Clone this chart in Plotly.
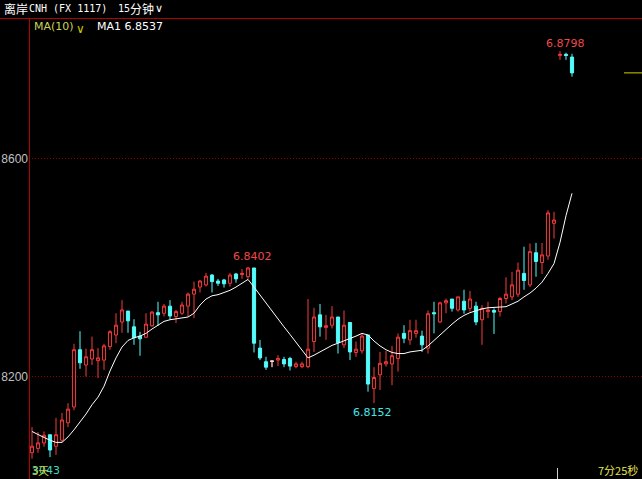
import plotly.graph_objects as go

# 15-minute bars, offshore CNH
open_ = [6.8061, 6.8069, 6.8079, 6.8094, 6.8073, 6.8084, 6.8116, 6.8145, 6.8250, 6.8222,
         6.8233, 6.8230, 6.8231, 6.8256, 6.8277, 6.8301, 6.8321, 6.8292, 6.8275, 6.8273,
         6.8294, 6.8318, 6.8317, 6.8330, 6.8311, 6.8317, 6.8330, 6.8352, 6.8365, 6.8369,
         6.8387, 6.8376, 6.8378, 6.8372, 6.8389, 6.8388, 6.8384, 6.8400, 6.8253, 6.8228,
         6.8229, 6.8231, 6.8232, 6.8234, 6.8219, 6.8219, 6.8219, 6.8265, 6.8314, 6.8291,
         6.8295, 6.8310, 6.8259, 6.8300, 6.8245, 6.8248, 6.8277, 6.8179, 6.8204, 6.8224,
         6.8224, 6.8234, 6.8280, 6.8268, 6.8280, 6.8275, 6.8253, 6.8318, 6.8301, 6.8336,
         6.8343, 6.8323, 6.8339, 6.8326, 6.8330, 6.8305, 6.8320, 6.8322, 6.8320, 6.8344,
         6.8347, 6.8352, 6.8390, 6.8369, 6.8428, 6.8410, 6.8422, 6.8482, 6.8790, 6.8792,
         6.8787]
high = [6.8108, 6.8099, 6.8100, 6.8094, 6.8125, 6.8134, 6.8152, 6.8261, 6.8284, 6.8252,
        6.8274, 6.8253, 6.8261, 6.8286, 6.8317, 6.8341, 6.8321, 6.8306, 6.8283, 6.8317,
        6.8321, 6.8338, 6.8334, 6.8341, 6.8323, 6.8338, 6.8355, 6.8375, 6.8378, 6.8391,
        6.8389, 6.8380, 6.8380, 6.8391, 6.8391, 6.8398, 6.8402, 6.8400, 6.8268, 6.8237,
        6.8229, 6.8240, 6.8237, 6.8237, 6.8228, 6.8228, 6.8343, 6.8327, 6.8334, 6.8314,
        6.8330, 6.8310, 6.8322, 6.8300, 6.8265, 6.8280, 6.8277, 6.8218, 6.8246, 6.8248,
        6.8257, 6.8280, 6.8295, 6.8305, 6.8305, 6.8285, 6.8322, 6.8338, 6.8338, 6.8344,
        6.8343, 6.8347, 6.8360, 6.8358, 6.8338, 6.8332, 6.8338, 6.8326, 6.8347, 6.8383,
        6.8393, 6.8410, 6.8439, 6.8445, 6.8446, 6.8446, 6.8506, 6.8503, 6.8798, 6.8795,
        6.8793]
low = [6.8050, 6.8061, 6.8072, 6.8053, 6.8057, 6.8081, 6.8108, 6.8139, 6.8215, 6.8201,
       6.8222, 6.8198, 6.8213, 6.8250, 6.8262, 6.8281, 6.8281, 6.8259, 6.8239, 6.8272,
       6.8292, 6.8294, 6.8311, 6.8305, 6.8299, 6.8314, 6.8311, 6.8308, 6.8355, 6.8366,
       6.8355, 6.8367, 6.8364, 6.8366, 6.8373, 6.8380, 6.8380, 6.8245, 6.8231, 6.8213,
       6.8218, 6.8220, 6.8218, 6.8212, 6.8216, 6.8216, 6.8216, 6.8246, 6.8274, 6.8268,
       6.8289, 6.8243, 6.8253, 6.8231, 6.8237, 6.8243, 6.8173, 6.8152, 6.8176, 6.8219,
       6.8185, 6.8210, 6.8262, 6.8259, 6.8272, 6.8246, 6.8243, 6.8280, 6.8299, 6.8317,
       6.8320, 6.8320, 6.8316, 6.8320, 6.8295, 6.8259, 6.8308, 6.8279, 6.8311, 6.8335,
       6.8341, 6.8347, 6.8360, 6.8365, 6.8384, 6.8389, 6.8415, 6.8454, 6.8782, 6.8782,
       6.8751]
close = [6.8073, 6.8079, 6.8093, 6.8066, 6.8094, 6.8121, 6.8141, 6.8250, 6.8226, 6.8237,
         6.8250, 6.8235, 6.8257, 6.8283, 6.8295, 6.8323, 6.8303, 6.8272, 6.8270, 6.8297,
         6.8319, 6.8314, 6.8330, 6.8312, 6.8320, 6.8332, 6.8352, 6.8361, 6.8376, 6.8385,
         6.8375, 6.8372, 6.8371, 6.8387, 6.8380, 6.8390, 6.8400, 6.8262, 6.8235, 6.8218,
         6.8229, 6.8234, 6.8224, 6.8220, 6.8224, 6.8224, 6.8251, 6.8310, 6.8292, 6.8294,
         6.8310, 6.8263, 6.8295, 6.8246, 6.8251, 6.8275, 6.8187, 6.8199, 6.8225, 6.8228,
         6.8239, 6.8273, 6.8271, 6.8285, 6.8285, 6.8259, 6.8316, 6.8316, 6.8336, 6.8340,
         6.8326, 6.8347, 6.8323, 6.8343, 6.8301, 6.8326, 6.8323, 6.8319, 6.8344, 6.8352,
         6.8369, 6.8396, 6.8377, 6.8430, 6.8412, 6.8424, 6.8501, 6.8488, 6.8792, 6.8790,
         6.8758]
# MA(10) line
ma10 = [6.8100, 6.8094, 6.8089, 6.8084, 6.8080, 6.8080, 6.8090, 6.8103, 6.8117, 6.8132,
        6.8149, 6.8163, 6.8183, 6.8211, 6.8235, 6.8255, 6.8267, 6.8272, 6.8275, 6.8280,
        6.8288, 6.8295, 6.8302, 6.8305, 6.8307, 6.8309, 6.8310, 6.8317, 6.8332, 6.8343,
        6.8349, 6.8351, 6.8355, 6.8359, 6.8365, 6.8372, 6.8379, 6.8365, 6.8350, 6.8336,
        6.8321, 6.8306, 6.8292, 6.8278, 6.8263, 6.8249, 6.8235, 6.8240, 6.8246, 6.8252,
        6.8258, 6.8262, 6.8266, 6.8271, 6.8275, 6.8280, 6.8277, 6.8266, 6.8257, 6.8250,
        6.8245, 6.8243, 6.8243, 6.8246, 6.8248, 6.8249, 6.8257, 6.8267, 6.8278, 6.8288,
        6.8297, 6.8306, 6.8313, 6.8318, 6.8322, 6.8325, 6.8327, 6.8328, 6.8328, 6.8329,
        6.8334, 6.8339, 6.8347, 6.8354, 6.8363, 6.8374, 6.8390, 6.8408, 6.8447, 6.8496,
        6.8537]
price_ticks = [6.82, 6.86]
# the narrow price scale shows only the last four digits
tick_labels = [f"{v:.4f}"[-4:] for v in price_ticks]
idx = list(range(len(close)))

# marked extremes (bar index, which price)
peak_i, trough_i, top_i = 36, 57, 88

W, H = 642, 479
L, T = 29, 18
PW, PH = W - L, H - T


def px(x):
    return (x - L) / PW


def py(y):
    return 1 - (y - T) / PH


UP = "#f53c3c"
DOWN = "#54fcfc"
FRAME = "#b40000"
GRID = "#8c0000"

fig = go.Figure()
fig.add_trace(go.Candlestick(
    x=idx, open=open_, high=high, low=low, close=close,
    increasing=dict(line=dict(color=UP, width=1), fillcolor="#000000"),
    decreasing=dict(line=dict(color=DOWN, width=1), fillcolor=DOWN),
    whiskerwidth=0, showlegend=False, hoverinfo="skip",
))

# flat bars (open == close) are drawn in white
flat = [i for i in idx if open_[i] == close[i]]
fig.add_trace(go.Candlestick(
    x=flat, open=[open_[i] for i in flat], high=[high[i] for i in flat],
    low=[low[i] for i in flat], close=[close[i] for i in flat],
    increasing=dict(line=dict(color="#e8e8e8", width=1), fillcolor="#e8e8e8"),
    decreasing=dict(line=dict(color="#e8e8e8", width=1), fillcolor="#e8e8e8"),
    whiskerwidth=0, showlegend=False, hoverinfo="skip",
))

fig.add_trace(go.Scatter(
    x=idx, y=ma10, mode="lines", line=dict(color="#ffffff", width=1),
    showlegend=False, hoverinfo="skip",
))

LAT = "DejaVu Sans"
CJK = "Noto Sans CJK SC"
MONO = "DejaVu Sans Mono"


def note(x, y, text, color, size=11, family=LAT, anchor="left"):
    return dict(xref="paper", yref="paper", x=px(x), y=py(y), text=text,
                showarrow=False, xanchor=anchor, yanchor="middle",
                font=dict(family=family, size=size, color=color))


annotations = [
    note(2, 9, "离岸", "#ffffff", 12, CJK),
    note(27, 9, "CNH (FX 1117)", "#ffffff", 10, MONO),
    note(116, 9, "15", "#ffffff", 10, MONO),
    note(128, 9, "分钟", "#ffffff", 12, CJK),
    note(153, 9, "∨", "#ffffff", 11, LAT),
    note(32, 27, "MA(10)", "#c8d25a", 11, LAT),
    note(74, 29, "∨", "#c8c800", 12, LAT),
    note(95, 27, f"MA1 {ma10[-1]:.4f}", "#ffffff", 11, LAT),
    note(30, 470, "3043", "#40d8c0", 11, LAT),
    note(30, 470, "3天", "#c8c832", 11, CJK),
    note(596, 470, "7分25秒", "#e6e650", 11, CJK),
]

for i, yshift, xshift, color in [
    (peak_i, 10, 4, "#f04848"),
    (trough_i, -9, -2, "#40e8e8"),
    (top_i, 8, 5, "#f04848"),
]:
    val = high[i] if yshift > 0 else low[i]
    annotations.append(dict(
        x=i, y=val, xref="x", yref="y", text=f"{val:.4f}", showarrow=False,
        xanchor="center", yanchor="middle", xshift=xshift, yshift=yshift,
        font=dict(family=LAT, size=11, color=color),
    ))

shapes = [
    # frame lines
    dict(type="line", xref="paper", yref="paper", x0=px(0), x1=1,
         y0=py(18.5), y1=py(18.5), line=dict(color=FRAME, width=1)),
    dict(type="line", xref="paper", yref="paper", x0=px(29.5), x1=px(29.5),
         y0=py(18), y1=0, line=dict(color=FRAME, width=1)),
    # last price marker
    dict(type="line", xref="paper", yref="y", x0=px(624), x1=1,
         y0=close[-1], y1=close[-1], line=dict(color="#d2d200", width=1)),
    # scroll cursor tick
    dict(type="line", xref="paper", yref="paper", x0=px(557.5), x1=px(557.5),
         y0=py(468), y1=0, line=dict(color="#d0d0d0", width=1)),
]

fig.update_layout(
    width=W, height=H,
    margin=dict(l=L, r=0, t=T, b=0, pad=0, autoexpand=False),
    paper_bgcolor="#000000", plot_bgcolor="#000000",
    showlegend=False, boxgap=0.25,
    xaxis=dict(range=[-0.5, -0.5 + PW / 6], visible=False, showgrid=False,
               zeroline=False, rangeslider=dict(visible=False), fixedrange=True,
               automargin=False),
    yaxis=dict(range=[6.80128, 6.88587], tickvals=price_ticks, ticktext=tick_labels,
               showgrid=True, gridcolor=GRID, gridwidth=1, griddash="1px,2px",
               zeroline=False, showline=False, ticks="", automargin=False,
               tickfont=dict(family="Liberation Sans", size=12, color="#c0c0c0"),
               fixedrange=True),
    annotations=annotations,
    shapes=shapes,
)

fig.write_html("out.html")
